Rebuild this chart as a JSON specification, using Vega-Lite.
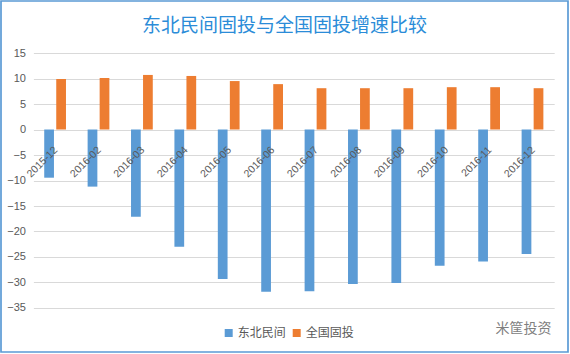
{
  "$schema": "https://vega.github.io/schema/vega-lite/v6.json",
  "width": 567,
  "height": 351,
  "autosize": {"type": "none"},
  "padding": {"left": 1, "top": 1, "right": 2, "bottom": 2},
  "background": "white",
  "title": {
    "text": "东北民间固投与全国固投增速比较",
    "font": "Noto Sans CJK SC",
    "fontSize": 19,
    "fontWeight": "normal",
    "color": "#2B8CD8",
    "anchor": "middle",
    "frame": "group",
    "offset": -35
  },
  "data": {
    "values": [
      {"month": "2015-12", "series": "东北民间", "value": -9.45},
      {"month": "2016-02", "series": "东北民间", "value": -11.2},
      {"month": "2016-03", "series": "东北民间", "value": -17.1},
      {"month": "2016-04", "series": "东北民间", "value": -23.0},
      {"month": "2016-05", "series": "东北民间", "value": -29.3},
      {"month": "2016-06", "series": "东北民间", "value": -31.8},
      {"month": "2016-07", "series": "东北民间", "value": -31.7},
      {"month": "2016-08", "series": "东北民间", "value": -30.3},
      {"month": "2016-09", "series": "东北民间", "value": -30.1},
      {"month": "2016-10", "series": "东北民间", "value": -26.7},
      {"month": "2016-11", "series": "东北民间", "value": -25.9},
      {"month": "2016-12", "series": "东北民间", "value": -24.4},
      {"month": "2015-12", "series": "全国固投", "value": 9.9},
      {"month": "2016-02", "series": "全国固投", "value": 10.1},
      {"month": "2016-03", "series": "全国固投", "value": 10.7},
      {"month": "2016-04", "series": "全国固投", "value": 10.5},
      {"month": "2016-05", "series": "全国固投", "value": 9.5},
      {"month": "2016-06", "series": "全国固投", "value": 8.9},
      {"month": "2016-07", "series": "全国固投", "value": 8.1},
      {"month": "2016-08", "series": "全国固投", "value": 8.1},
      {"month": "2016-09", "series": "全国固投", "value": 8.1},
      {"month": "2016-10", "series": "全国固投", "value": 8.3},
      {"month": "2016-11", "series": "全国固投", "value": 8.3},
      {"month": "2016-12", "series": "全国固投", "value": 8.1}
    ]
  },
  "mark": {"type": "bar"},
  "encoding": {
    "x": {
      "field": "month",
      "type": "nominal",
      "sort": null,
      "scale": {"range": [32.4, 553.2], "paddingInner": 0, "paddingOuter": 0},
      "axis": {
        "orient": "bottom",
        "offset": -222.5,
        "zindex": 2,
        "domain": false,
        "ticks": false,
        "tickSize": 0,
        "grid": false,
        "labelAngle": -45,
        "labelAlign": "right",
        "labelBaseline": "middle",
        "labelPadding": 18.5,
        "labelOffset": 1,
        "labelFont": "Liberation Sans",
        "labelFontSize": 10.5,
        "labelColor": "#595959",
        "title": "米筐投资",
        "titleX": 522,
        "titleY": 198.5,
        "titleAlign": "center",
        "titleBaseline": "middle",
        "titleAngle": 0,
        "titleFont": "Noto Sans CJK SC",
        "titleFontSize": 14,
        "titleFontWeight": "normal",
        "titleColor": "#808080"
      }
    },
    "xOffset": {
      "field": "series",
      "type": "nominal",
      "sort": ["东北民间", "全国固投"],
      "scale": {"paddingInner": 0.19, "paddingOuter": 0.9}
    },
    "y": {
      "field": "value",
      "type": "quantitative",
      "scale": {"domain": [-43.63, 25.2], "nice": false, "zero": false},
      "axis": {
        "orient": "left",
        "offset": -24.5,
        "values": [-35, -30, -25, -20, -15, -10, -5, 0, 5, 10, 15],
        "domain": false,
        "ticks": false,
        "tickSize": 0,
        "labelPadding": 0,
        "labelFont": "Liberation Sans",
        "labelFontSize": 11,
        "labelColor": "#595959",
        "grid": true,
        "gridColor": "#D9D9D9",
        "gridWidth": 1,
        "title": null
      }
    },
    "color": {
      "field": "series",
      "type": "nominal",
      "scale": {"domain": ["东北民间", "全国固投"], "range": ["#5B9BD5", "#ED7D31"]},
      "legend": {
        "orient": "none",
        "legendX": 221.7,
        "legendY": 326,
        "direction": "horizontal",
        "title": null,
        "padding": 0,
        "symbolType": "square",
        "symbolSize": 64,
        "symbolStrokeWidth": 0,
        "labelFont": "Noto Sans CJK SC",
        "labelFontSize": 12,
        "labelColor": "#595959",
        "labelOffset": 3,
        "columnPadding": 4
      }
    }
  },
  "config": {
    "view": {"stroke": "#5B9BD5", "strokeWidth": 1.7}
  }
}
